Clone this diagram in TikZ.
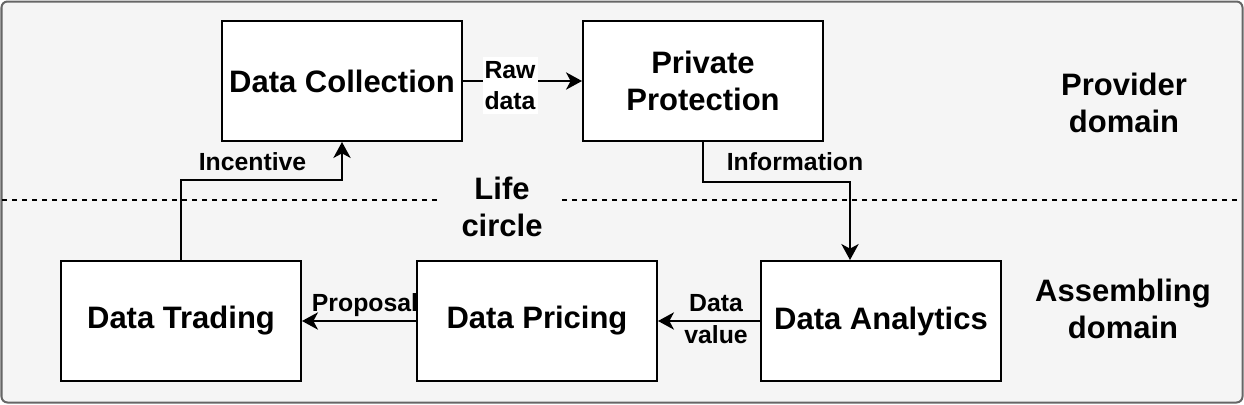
\documentclass[tikz,border=0pt]{standalone}
\usepackage{fontspec}
\setmainfont{Liberation Sans}
\usetikzlibrary{arrows.meta}
\definecolor{bgfill}{HTML}{F5F5F5}
\definecolor{bgdraw}{HTML}{666666}
\newcommand\bigtxt{\bfseries\fontsize{23.25}{27.75}\selectfont}
\newcommand\smalltxt{\bfseries\fontsize{18.6}{23.6}\selectfont}
\tikzset{
  box/.style={draw=black, fill=white, line width=1.5pt, minimum width=180pt,
    minimum height=90pt, inner sep=0pt, font=\bigtxt, align=center},
  big/.style={font=\bigtxt, align=center, inner sep=0pt},
  lbl/.style={font=\smalltxt, align=center, inner sep=0pt},
  arr/.style={line width=1.5pt, -{Stealth[length=12pt,width=13pt,inset=3.5pt]}},
  divider/.style={line width=1.1pt, dash pattern=on 4pt off 3.5pt}
}
\begin{document}
\begin{tikzpicture}[x=0.75pt,y=-0.75pt]
\useasboundingbox (0,0) rectangle (1244,404);
\draw[fill=bgfill, draw=bgdraw, line width=1.5pt, rounded corners=4.5pt] (1.5,1.5) rectangle (1242.5,402.5);
\draw[divider] (2,200) -- (438,200);
\draw[divider] (562,200) -- (1241,200);

\node[box] (DC) at (342,81) {Data Collection};
\node[box] (PP) at (703,81) {Private\\Protection};
\node[box] (DT) at (181,321) {Data Trading};
\node[box] (DP) at (537,321) {Data Pricing};
\node[box] (DA) at (881,321) {Data Analytics};

\coordinate (infoEnd) at ([xshift=-23.25pt]DA.north);

\draw[arr] (DC) -- (PP);
\node[lbl, fill=white, inner xsep=1.5pt, inner ysep=3pt] (raw) at (510,85.5) {Raw\\data};
\draw[arr] (DT.north) -- ++(0,-80) -| (DC.south);
\draw[arr] (PP.south) -- ++(0,40) -| (infoEnd);
\draw[arr] (DA) -- (DP);
\draw[arr] (DP) -- (DT);

\node[lbl, anchor=base] (inc) at (252.5,170) {Incentive};
\node[lbl, anchor=base] (info) at (795,170) {Information};
\node[lbl, anchor=base] (prop) at (365,311) {Proposal};
\node[lbl] (dv) at (716,319) {Data\\value};

\node[big] (life) at (502,207) {Life\\circle};
\node[big] (prov) at (1124,103) {Provider\\domain};
\node[big] (asm) at (1123,309) {Assembling\\domain};
\end{tikzpicture}
\end{document}
